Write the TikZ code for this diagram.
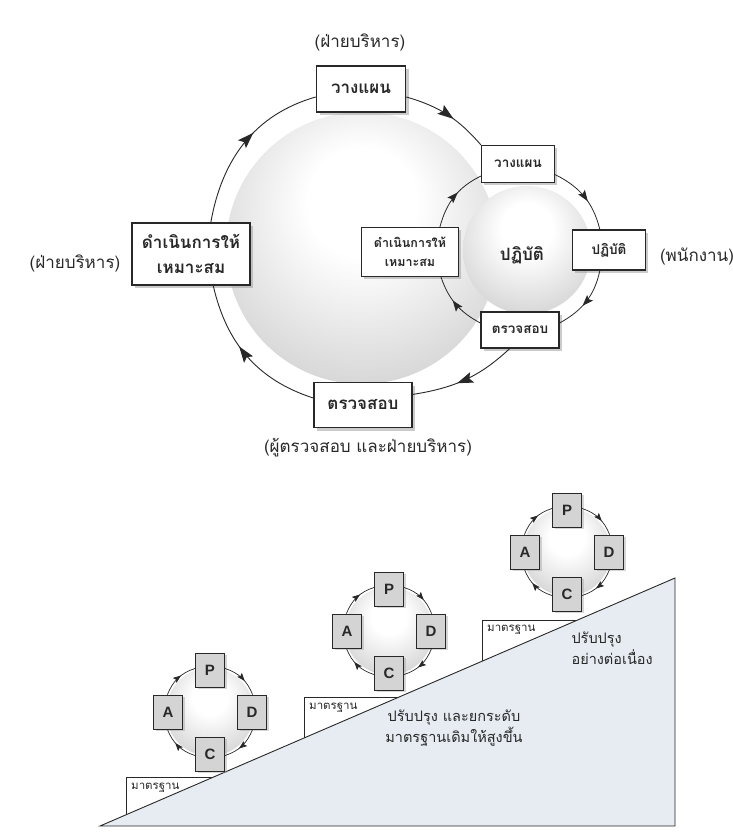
\documentclass[tikz,border=0pt]{standalone}
\usepackage{fontspec}
\setmainfont{Loma}[Script=Thai]
\newfontfamily\latinsans{Liberation Sans}
\usetikzlibrary{shadows,decorations.markings,arrows.meta}
\definecolor{wedge}{RGB}{230,236,242}
\definecolor{ink}{RGB}{40,40,40}
\pgfdeclareradialshading{sph}{\pgfpoint{0bp}{10bp}}{color(0bp)=(white); color(10bp)=(white); color(32bp)=(black!17); color(48bp)=(black!32); color(62bp)=(black!48)}
\tikzset{
  bigbox/.style={draw=ink, line width=1.6pt, fill=white, text=ink, align=center, inner sep=2pt,
    font=\bfseries\fontsize{17}{25}\selectfont,
    drop shadow={shadow xshift=3pt, shadow yshift=-3pt, fill=black!40, opacity=0.5}},
  smallbox/.style={draw=ink, line width=1.2pt, fill=white, text=ink, align=center, inner sep=2pt,
    font=\bfseries\fontsize{13.5}{20}\selectfont,
    drop shadow={shadow xshift=2.5pt, shadow yshift=-2.5pt, fill=black!40, opacity=0.5}},
  pdcabox/.style={draw=ink, line width=0.8pt, fill=black!17, text=ink, inner sep=0pt,
    minimum width=29pt, minimum height=34pt, font=\latinsans\bfseries\fontsize{15}{15}\selectfont,
    drop shadow={shadow xshift=2pt, shadow yshift=-2pt, fill=black!40, opacity=0.4}},
  paren/.style={text=ink, font=\fontsize{17}{20}\selectfont},
  stdlbl/.style={text=ink, font=\fontsize{11.5}{13}\selectfont, inner sep=1pt},
  plain/.style={text=ink, font=\fontsize{14.5}{21}\selectfont},
  bigarc/.style={draw=ink, line width=0.9pt, postaction={decorate},
    decoration={markings, mark=at position 0.58 with {\arrow{Stealth[length=16pt,width=11pt,inset=3pt]}}}},
  smlarc/.style={draw=ink, line width=0.8pt, postaction={decorate},
    decoration={markings, mark=at position 0.58 with {\arrow{Stealth[length=11pt,width=8pt,inset=2pt]}}}},
  pdcaarc/.style={draw=ink, line width=0.7pt, postaction={decorate},
    decoration={markings, mark=at position 0.6 with {\arrow{Stealth[length=8pt,width=6pt,inset=1.5pt]}}}},
  stepline/.style={draw=ink, line width=0.8pt},
}
\begin{document}
\begin{tikzpicture}[x=1pt,y=1pt]
\useasboundingbox[fill=white] (0,0) rectangle (733,-835);

% ---------- upper diagram ----------
\shade[shading=sph] (362,-248) circle (136pt);
\shade[shading=sph] (527,-250) circle (64pt);

\node[bigbox, minimum width=89pt, minimum height=46pt] (T) at (361,-89) {วางแผน};
\node[bigbox, minimum width=118pt, minimum height=62pt] (L) at (191,-254) {ดำเนินการให้\\เหมาะสม};
\node[bigbox, minimum width=98pt, minimum height=45pt] (B) at (363,-405) {ตรวจสอบ};

\node[smallbox, minimum width=73pt, minimum height=37pt] (SV) at (518,-164) {วางแผน};
\node[smallbox, minimum width=73pt, minimum height=40pt] (PR) at (609,-250) {ปฏิบัติ};
\node[smallbox, minimum width=78pt, minimum height=36pt] (SC) at (520,-330) {ตรวจสอบ};
\node[smallbox, minimum width=97pt, minimum height=49pt, font=\bfseries\fontsize{12.5}{19}\selectfont] (IL) at (410,-252) {ดำเนินการให้\\เหมาะสม};
\node[text=ink, font=\bfseries\fontsize{17}{20}\selectfont] (PL) at (522,-255) {ปฏิบัติ};

\node[paren] (lt) at (360,-42) {(ฝ่ายบริหาร)};
\node[paren] (ll) at (75,-263) {(ฝ่ายบริหาร)};
\node[paren] (lr) at (697,-256) {(พนักงาน)};
\node[paren] (lb) at (368,-448) {(ผู้ตรวจสอบ และฝ่ายบริหาร)};

% big cycle
\draw[bigarc] (T.-10) to[out=-16, in=131] (SV.north west);
\draw[bigarc] (SC.241) to[out=223, in=9] (B.12);
\draw[bigarc] (B.172) to[out=162, in=-77] (L.-55);
\draw[bigarc] (L.58) to[out=80, in=196] (T.190);
% small cycle
\draw[smlarc] (SV.-16) to[out=-26, in=104] (PR.114);
\draw[smlarc] (PR.-114) to[out=-102, in=29] (SC.10);
\draw[smlarc] (SC.170) to[out=152, in=-71] (IL.-39);
\draw[smlarc] (IL.40) to[out=75, in=206] (SV.198);

% ---------- lower diagram ----------
\draw[stepline] (126,-826) -- (126,-777) -- (214,-777);
\draw[stepline] (304,-826) -- (304,-697) -- (399,-697);
\draw[stepline] (482,-826) -- (482,-620) -- (578,-620);
\draw[draw=ink, line width=0.9pt, fill=wedge] (100,-826) -- (675,-578) -- (675,-826) -- cycle;

\node[stdlbl, anchor=west] (m1) at (130,-788) {มาตรฐาน};
\node[stdlbl, anchor=west] (m2) at (308,-708) {มาตรฐาน};
\node[stdlbl, anchor=west] (m3) at (486,-630) {มาตรฐาน};

\node[plain, align=center] (t1) at (454,-728) {ปรับปรุง และยกระดับ\\มาตรฐานเดิมให้สูงขึ้น};
\node[plain, align=left, anchor=west] (t2) at (568,-648) {ปรับปรุง\\อย่างต่อเนื่อง};

\foreach \cx/\cy/\n in {210/-712/a, 389/-631/b, 567/-552/c}{
  \begin{scope}[shift={(\cx,\cy)}]
    \shade[shading=sph] (0,0) circle (44pt);
    \node[pdcabox] (P\n) at (0,42) {P};
    \node[pdcabox] (D\n) at (42,0) {D};
    \node[pdcabox] (C\n) at (0,-42) {C};
    \node[pdcabox] (A\n) at (-42,0) {A};
    \draw[pdcaarc] (P\n.6) to[out=-18, in=112] (D\n.88);
    \draw[pdcaarc] (D\n.-88) to[out=-112, in=18] (C\n.-6);
    \draw[pdcaarc] (C\n.186) to[out=162, in=-68] (A\n.-92);
    \draw[pdcaarc] (A\n.92) to[out=68, in=198] (P\n.174);
  \end{scope}
}
\end{tikzpicture}
\end{document}
